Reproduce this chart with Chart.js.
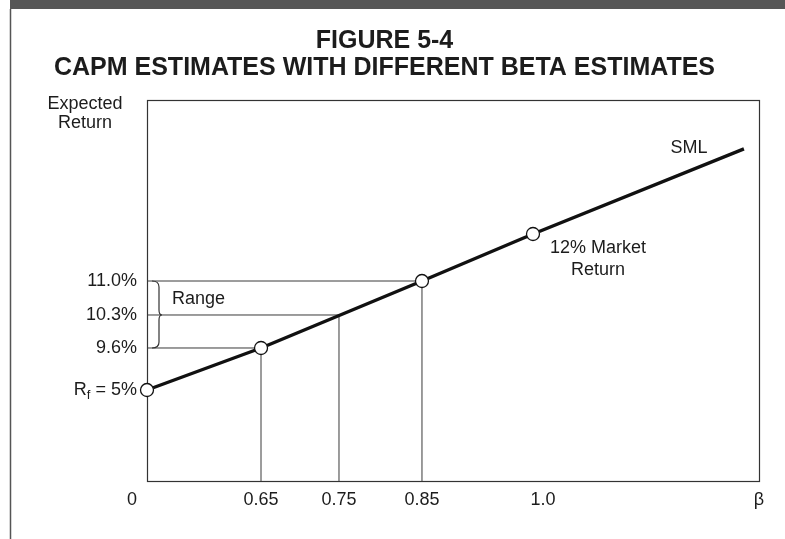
<!DOCTYPE html>
<html>
<head>
<meta charset="utf-8">
<style>
  html, body { margin: 0; padding: 0; background: #fff; }
  #wrap { width: 785px; height: 539px; }
</style>
<script src="https://cdn.jsdelivr.net/npm/chart.js"></script>
</head>
<body>
<div id="wrap"><canvas id="capm" width="785" height="539"></canvas></div>
<script>
// values
const betaTicks = [0, 0.65, 0.75, 0.85, 1.0];
const betaTickLabels = ['0', '0.65', '0.75', '0.85', '1.0'];
const returnTicks = [5, 9.6, 10.3, 11.0];
const riskFree = 5;
const marketBeta = 1.0;
const marketReturn = 12;
const estimateBetas = [0.65, 0.75, 0.85];
const estimateReturns = [9.6, 10.3, 11.0];
const circleBetas = [0, 0.65, 0.85, 1.0];
const circleReturns = [5, 9.6, 11.0, 12];
const smlBetas = [0, 0.65, 0.85, 1.0, 1.28];
const smlReturns = [5, 9.6, 11.0, 12, 14];

// the book figure is not drawn to scale, so each axis is piecewise linear
// (value -> fraction of axis length)
const knots = {
    x: { values: [0, 0.65, 0.75, 0.85, 1.0, 1.3], fracs: [0, 0.1863, 0.3137, 0.4493, 0.6307, 1] },
    y: { values: [0, 5, 9.6, 10.3, 11.0, 12, 14, 16], fracs: [0, 0.2388, 0.3491, 0.4357, 0.5249, 0.6483, 0.8719, 1] }
};

function toFrac(k, v) {
    const vs = k.values, fs = k.fracs, n = vs.length - 1;
    if (v <= vs[0]) return fs[0] + (v - vs[0]) * (fs[1] - fs[0]) / (vs[1] - vs[0]);
    for (let i = 1; i <= n; i++) {
        if (v <= vs[i]) return fs[i - 1] + (v - vs[i - 1]) / (vs[i] - vs[i - 1]) * (fs[i] - fs[i - 1]);
    }
    return fs[n] + (v - vs[n]) * (fs[n] - fs[n - 1]) / (vs[n] - vs[n - 1]);
}

function fromFrac(k, f) {
    const vs = k.values, fs = k.fracs, n = vs.length - 1;
    for (let i = 1; i <= n; i++) {
        if (f <= fs[i] || i === n) return vs[i - 1] + (f - fs[i - 1]) / (fs[i] - fs[i - 1]) * (vs[i] - vs[i - 1]);
    }
}

class PiecewiseScale extends Chart.LinearScale {
    getPixelForValue(value) {
        if (value === null || isNaN(value)) return NaN;
        return this.getPixelForDecimal(toFrac(knots[this.id], value));
    }
    getValueForPixel(pixel) {
        return fromFrac(knots[this.id], this.getDecimalForPixel(pixel));
    }
}
PiecewiseScale.id = 'piecewise';
PiecewiseScale.defaults = Chart.LinearScale.defaults;
Chart.register(PiecewiseScale);

const FONT = 'Liberation Sans, Arial, sans-serif';
const INK = '#1c1c1c';

// page frame, plot box, brace and free text
const figurePlugin = {
    id: 'figure',
    beforeDraw(chart) {
        const ctx = chart.ctx;
        ctx.save();
        ctx.fillStyle = '#fff';
        ctx.fillRect(0, 0, chart.width, chart.height);
        ctx.fillStyle = '#575757';
        ctx.fillRect(10, 0, chart.width - 10, 9);
        ctx.strokeStyle = '#555';
        ctx.lineWidth = 1.5;
        ctx.beginPath();
        ctx.moveTo(10.5, 9);
        ctx.lineTo(10.5, chart.height);
        ctx.stroke();
        ctx.restore();
    },
    beforeDatasetsDraw(chart) {
        const ctx = chart.ctx, a = chart.chartArea;
        ctx.save();
        ctx.strokeStyle = '#333';
        ctx.lineWidth = 1.2;
        ctx.strokeRect(a.left + 0.5, a.top + 0.5, a.right - a.left, a.bottom - a.top);
        ctx.restore();
    },
    afterDatasetsDraw(chart) {
        const ctx = chart.ctx, a = chart.chartArea;
        const xs = chart.scales.x, ys = chart.scales.y;
        ctx.save();
        ctx.fillStyle = INK;
        ctx.font = '18px ' + FONT;
        ctx.textBaseline = 'middle';

        // axis title
        ctx.textAlign = 'center';
        ctx.fillText('Expected', a.left - 62, a.top + 4);
        ctx.fillText('Return', a.left - 62, a.top + 23);

        // R_f = 5% label
        const yRf = ys.getPixelForValue(riskFree);
        const right = a.left - 10;
        ctx.textAlign = 'left';
        const wEq = ctx.measureText(' = 5%').width;
        const wR = ctx.measureText('R').width;
        ctx.font = '13px ' + FONT;
        const wF = ctx.measureText('f').width;
        const x0 = right - wEq - wF - wR;
        ctx.font = '18px ' + FONT;
        ctx.fillText('R', x0, yRf);
        ctx.fillText(' = 5%', x0 + wR + wF, yRf);
        ctx.font = '13px ' + FONT;
        ctx.fillText('f', x0 + wR, yRf + 5);

        // brace spanning the estimate range
        const yTop = ys.getPixelForValue(estimateReturns[2]);
        const yMid = ys.getPixelForValue(estimateReturns[1]);
        const yBot = ys.getPixelForValue(estimateReturns[0]);
        const bx0 = a.left + 5, bx1 = a.left + 12;
        ctx.strokeStyle = '#333';
        ctx.lineWidth = 1.2;
        ctx.beginPath();
        ctx.moveTo(bx0, yTop);
        ctx.quadraticCurveTo(bx1, yTop, bx1, yTop + 6);
        ctx.lineTo(bx1, yMid - 5);
        ctx.quadraticCurveTo(bx1, yMid, bx1 + 3, yMid);
        ctx.quadraticCurveTo(bx1, yMid, bx1, yMid + 5);
        ctx.lineTo(bx1, yBot - 6);
        ctx.quadraticCurveTo(bx1, yBot, bx0, yBot);
        ctx.stroke();

        ctx.font = '18px ' + FONT;
        ctx.textAlign = 'left';
        ctx.fillText('Range', a.left + 25, (yTop + yMid) / 2 + 1);

        // line labels
        ctx.textAlign = 'center';
        const mx = xs.getPixelForValue(marketBeta), my = ys.getPixelForValue(marketReturn);
        ctx.fillText('12% Market', mx + 65, my + 14);
        ctx.fillText('Return', mx + 65, my + 36);
        const last = smlBetas.length - 1;
        const ex = xs.getPixelForValue(smlBetas[last]), ey = ys.getPixelForValue(smlReturns[last]);
        ctx.fillText('SML', ex - 55, ey - 1);
        ctx.restore();
    }
};

const dropLines = estimateBetas.map((b, i) => ({
    data: [{ x: b, y: 0 }, { x: b, y: estimateReturns[i] }, { x: 0, y: estimateReturns[i] }],
    showLine: true,
    borderColor: '#3a3a3a',
    borderWidth: 1,
    pointRadius: 0,
    clip: false
}));

const chart = new Chart(document.getElementById('capm'), {
    type: 'scatter',
    data: {
        datasets: [
            {
                data: circleBetas.map((b, i) => ({ x: b, y: circleReturns[i] })),
                showLine: false,
                pointRadius: 6.5,
                pointBackgroundColor: '#fff',
                pointBorderColor: '#111',
                pointBorderWidth: 1.3,
                clip: false
            },
            {
                data: smlBetas.map((b, i) => ({ x: b, y: smlReturns[i] })),
                showLine: true,
                borderColor: '#111',
                borderWidth: 3.4,
                borderJoinStyle: 'round',
                pointRadius: 0,
                clip: false
            },
            ...dropLines
        ]
    },
    options: {
        responsive: false,
        animation: false,
        events: [],
        layout: { padding: { left: 10, right: 26, top: 0, bottom: 0 } },
        scales: {
            x: {
                type: 'piecewise',
                min: 0,
                max: 1.3,
                bounds: 'data',
                grid: { display: false, drawTicks: false },
                border: { display: false },
                afterBuildTicks: scale => {
                    scale.ticks = betaTicks.concat([1.3]).map(v => ({ value: v }));
                },
                afterFit: scale => { scale.height = 58; },
                ticks: {
                    autoSkip: false,
                    maxRotation: 0,
                    padding: 8,
                    color: INK,
                    font: { family: FONT, size: 18 },
                    // the printed labels sit a little off their drop lines
                    callback: (v, i) => {
                        if (i === 0) return betaTickLabels[0] + '\u2007\u2007\u2007';
                        if (i === 4) return '\u2007\u2007' + betaTickLabels[4];
                        return i < betaTickLabels.length ? betaTickLabels[i] : 'β';
                    }
                }
            },
            y: {
                type: 'piecewise',
                min: 0,
                max: 16,
                bounds: 'data',
                grid: { display: false, drawTicks: false },
                border: { display: false },
                afterBuildTicks: scale => {
                    scale.ticks = returnTicks.map(v => ({ value: v }));
                },
                afterFit: scale => { scale.width = 137; },
                ticks: {
                    autoSkip: false,
                    padding: 10,
                    color: INK,
                    font: { family: FONT, size: 18 },
                    callback: v => v === riskFree ? '' : v.toFixed(1) + '%'
                }
            }
        },
        plugins: {
            legend: { display: false },
            tooltip: { enabled: false },
            title: {
                display: true,
                text: ['FIGURE 5-4', 'CAPM ESTIMATES WITH DIFFERENT BETA ESTIMATES'],
                color: INK,
                font: { family: FONT, size: 25, weight: 'bold', lineHeight: 1.08 },
                padding: { top: 28, bottom: 18 }
            }
        }
    },
    plugins: [figurePlugin]
});
</script>
</body>
</html>
